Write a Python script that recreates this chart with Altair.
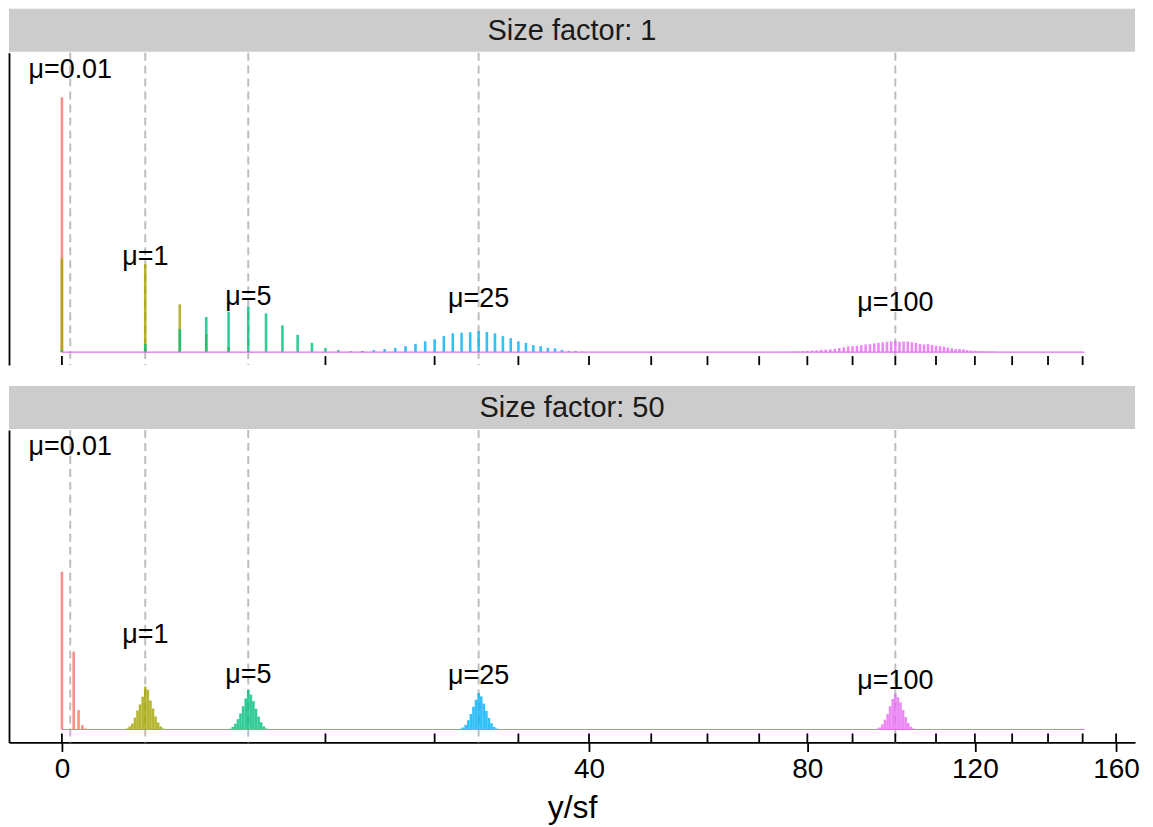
import altair as alt
import pandas as pd

FONT = "Liberation Sans"

# ---------------- data ----------------
MU_VALUES = [0.01, 1, 5, 25, 100]
MU_LABELS = ["μ=0.01", "μ=1", "μ=5", "μ=25", "μ=100"]
COLORS = ["#F8766D", "#A3A500", "#00BF7D", "#00B0F6", "#E76BF3"]
LABEL_Y = [1.06, 0.336, 0.181, 0.174, 0.158]
STRIP_TITLES = ["Size factor: 1", "Size factor: 50"]

# Size factor 1 : counts / proportions
SF1_MU001_X = [0, 1]
SF1_MU001_P = [0.985, 0.012]
SF1_MU1_X = [0, 1, 2, 3, 4, 5, 6]
SF1_MU1_P = [0.363, 0.340, 0.185, 0.070, 0.020, 0.005, 0.001]
SF1_MU5_X = [0, 1, 2, 3, 4, 5, 6, 7, 8, 9, 10, 11, 12, 13]
SF1_MU5_P = [0.007, 0.031, 0.089, 0.136, 0.156, 0.175, 0.150, 0.104, 0.067,
             0.036, 0.016, 0.008, 0.004, 0.002]
SF1_MU25_X = [13, 14, 15, 16, 17, 18, 19, 20, 21, 22, 23, 24, 25, 26, 27, 28,
              29, 30, 31, 32, 33, 34, 35, 36, 37, 38, 39]
SF1_MU25_P = [0.005, 0.008, 0.012, 0.016, 0.023, 0.032, 0.042, 0.050, 0.062,
              0.073, 0.075, 0.077, 0.081, 0.078, 0.073, 0.062, 0.054, 0.042,
              0.036, 0.027, 0.023, 0.017, 0.015, 0.009, 0.005, 0.005, 0.002]
SF1_MU100_X = [75, 76, 77, 78, 79, 80, 81, 82, 83, 84, 85, 86, 87, 88, 89, 90,
               91, 92, 93, 94, 95, 96, 97, 98, 99, 100, 101, 102, 103, 104, 105,
               106, 107, 108, 109, 110, 111, 112, 113, 114, 115, 116, 117, 118,
               119, 120, 121, 122, 123, 124, 125]
SF1_MU100_P = [0.001, 0.001, 0.002, 0.003, 0.004, 0.005, 0.006, 0.007, 0.009,
               0.010, 0.011, 0.013, 0.016, 0.019, 0.022, 0.023, 0.024, 0.027,
               0.030, 0.031, 0.034, 0.036, 0.038, 0.040, 0.042, 0.043, 0.040,
               0.041, 0.041, 0.038, 0.036, 0.032, 0.030, 0.031, 0.028, 0.025,
               0.023, 0.021, 0.018, 0.015, 0.012, 0.012, 0.011, 0.008, 0.006,
               0.005, 0.004, 0.004, 0.003, 0.002, 0.002]

# Size factor 50 : binned y/sf values / proportions
SF50_MU001_X = [0, 0.02, 0.04, 0.06, 0.08]
SF50_MU001_P = [0.610, 0.301, 0.075, 0.017, 0.004]
SF50_MU1_X = [0.613, 0.663, 0.714, 0.767, 0.823, 0.880, 0.939, 1.0, 1.063,
              1.128, 1.195, 1.263, 1.334, 1.407, 1.481]
SF50_MU1_P = [0.004, 0.012, 0.023, 0.046, 0.073, 0.097, 0.127, 0.166, 0.154,
              0.112, 0.081, 0.050, 0.027, 0.012, 0.004]
SF50_MU5_X = [4.076, 4.203, 4.331, 4.461, 4.592, 4.726, 4.862, 5.0, 5.139,
              5.281, 5.424, 5.570, 5.717, 5.866, 6.017]
SF50_MU5_P = [0.003, 0.010, 0.022, 0.040, 0.062, 0.090, 0.120, 0.154, 0.135,
              0.110, 0.080, 0.050, 0.028, 0.012, 0.004]
SF50_MU25_X = [22.877, 23.175, 23.474, 23.775, 24.079, 24.384, 24.691, 25.0,
               25.311, 25.624, 25.939, 26.255, 26.574, 26.895, 27.217]
SF50_MU25_P = [0.003, 0.008, 0.018, 0.036, 0.060, 0.088, 0.115, 0.141, 0.128,
               0.100, 0.072, 0.045, 0.024, 0.010, 0.004]
SF50_MU100_X = [95.707, 96.315, 96.924, 97.535, 98.149, 98.764, 99.381, 100.0,
                100.621, 101.244, 101.869, 102.495, 103.124, 103.755, 104.387]
SF50_MU100_P = [0.003, 0.008, 0.020, 0.038, 0.060, 0.090, 0.118, 0.138, 0.125,
                0.105, 0.075, 0.048, 0.025, 0.011, 0.004]

BASELINE_RANGE = [0, 150.5]
MINOR_TICKS_TOP = [0, 10, 20, 30, 40, 50, 60, 70, 80, 90, 100, 110, 120, 130, 140, 150]
MINOR_TICKS_BOTTOM = [0, 10, 20, 30, 40, 50, 60, 70, 80, 90, 100, 110, 120, 130, 140, 150, 160]
LABELED_TICKS = [0, 40, 80, 120, 160]

# ---------------- layout ----------------
W = 1128
H = 313
STRIP_H = 43

XSCALE = alt.Scale(type="sqrt", domain=[-0.403, 165.79], nice=False, zero=False, padding=0)
YSCALE = alt.Scale(domain=[-0.050, 1.158], nice=False, zero=False, padding=0)
YAXIS = alt.Axis(labels=False, ticks=False, title=None, grid=False,
                 domain=True, domainColor="black", domainWidth=1.8)
NOVIEW = alt.ViewBackground(strokeWidth=0)


def bars_frame(groups):
    rows = []
    for label, xs, ps in groups:
        for x, p in zip(xs, ps):
            rows.append({"x": x, "p": p, "group": label})
    return pd.DataFrame(rows)


SF1_DF = bars_frame([
    (MU_LABELS[0], SF1_MU001_X, SF1_MU001_P),
    (MU_LABELS[1], SF1_MU1_X, SF1_MU1_P),
    (MU_LABELS[2], SF1_MU5_X, SF1_MU5_P),
    (MU_LABELS[3], SF1_MU25_X, SF1_MU25_P),
    (MU_LABELS[4], SF1_MU100_X, SF1_MU100_P),
])
SF50_DF = bars_frame([
    (MU_LABELS[0], SF50_MU001_X, SF50_MU001_P),
    (MU_LABELS[1], SF50_MU1_X, SF50_MU1_P),
    (MU_LABELS[2], SF50_MU5_X, SF50_MU5_P),
    (MU_LABELS[3], SF50_MU25_X, SF50_MU25_P),
    (MU_LABELS[4], SF50_MU100_X, SF50_MU100_P),
])

MU_DF = pd.DataFrame({"mu": MU_VALUES, "label": MU_LABELS, "ly": LABEL_Y})
BASE_DF = pd.DataFrame({"x0": [BASELINE_RANGE[0]], "x1": [BASELINE_RANGE[1]], "y0": [0.0]})


def panel(df, minor_ticks, bottom):
    if bottom:
        xaxis = alt.Axis(values=LABELED_TICKS, title="y/sf", grid=False,
                         tickSize=9, tickWidth=1.8, tickColor="black",
                         domainColor="black", domainWidth=1.8,
                         labelFontSize=28, labelFont=FONT, labelColor="black",
                         labelPadding=4, labelFlush=False,
                         titleFontSize=32, titleFont=FONT, titleColor="black",
                         titleFontWeight="normal", titlePadding=9)
    else:
        xaxis = None

    def X(field):
        return alt.X(field, type="quantitative", scale=XSCALE, axis=xaxis)

    def Y(field):
        return alt.Y(field, type="quantitative", scale=YSCALE, axis=YAXIS)

    vlines = alt.Chart(MU_DF).mark_rule(
        color="#BEBEBE", strokeWidth=2, strokeDash=[8, 5]
    ).encode(x=X("mu"), y=alt.value(0), y2=alt.value(H))

    bars = alt.Chart(df).mark_bar(size=2.6, opacity=0.8, orient="vertical").encode(
        x=X("x"),
        y=Y("p"),
        y2=alt.datum(0),
        color=alt.Color("group:N", scale=alt.Scale(domain=MU_LABELS, range=COLORS),
                        legend=None),
    )

    base = alt.Chart(BASE_DF).mark_rule(color="#E76BF3", strokeWidth=1.2).encode(
        x=X("x0"), x2=alt.X2("x1"), y=Y("y0")
    )

    ticks = alt.Chart(pd.DataFrame({"t": minor_ticks})).mark_rule(
        color="black", strokeWidth=1.8
    ).encode(x=X("t"), y=alt.value(H), y2=alt.value(H - 9))

    text = alt.Chart(MU_DF).mark_text(
        fontSize=27, font=FONT, color="black", baseline="alphabetic", align="center"
    ).encode(x=X("mu"), y=Y("ly"), text="label:N")

    return alt.layer(vlines, bars, base, ticks, text).properties(
        width=W, height=H, view=NOVIEW)


def strip(title):
    sdf = pd.DataFrame({"t": [title]})
    rect = alt.Chart(sdf).mark_rect(color="#CCCCCC").encode(
        x=alt.value(0), x2=alt.value(W), y=alt.value(0), y2=alt.value(STRIP_H)
    )
    txt = alt.Chart(sdf).mark_text(
        fontSize=29, font=FONT, color="#1A1A1A", baseline="middle", align="center"
    ).encode(x=alt.value(W / 2), y=alt.value(STRIP_H / 2 + 1), text="t:N")
    return alt.layer(rect, txt).properties(width=W, height=STRIP_H, view=NOVIEW)


top = alt.vconcat(strip(STRIP_TITLES[0]), panel(SF1_DF, MINOR_TICKS_TOP, False), spacing=0)
bot = alt.vconcat(strip(STRIP_TITLES[1]), panel(SF50_DF, MINOR_TICKS_BOTTOM, True), spacing=0)

chart = alt.vconcat(top, bot, spacing=20).properties(
    padding={"left": 1, "top": 0, "right": 5, "bottom": 2},
    background="white",
).configure_view(strokeWidth=0)

chart.save("out.html", embed_options={"renderer": "svg", "actions": False})
